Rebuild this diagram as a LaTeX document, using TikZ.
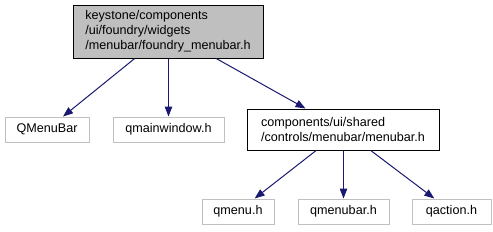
\documentclass[tikz,border=0pt]{standalone}
\usepackage{fontspec}
\setmainfont{Liberation Sans}
\usetikzlibrary{arrows.meta}
\definecolor{edgeblue}{HTML}{191970}
\definecolor{boxgray}{HTML}{BFBFBF}
\definecolor{lightborder}{HTML}{C0C0C0}
\begin{document}
\begin{tikzpicture}[x=1pt,y=-1pt,
  every node/.style={font=\fontsize{12.6}{15}\selectfont, inner sep=0pt, line width=1pt, align=left},
  extbox/.style={draw=lightborder, fill=white, minimum height=25pt},
  mainbox/.style={draw=black, fill=boxgray},
  incbox/.style={draw=black, fill=white},
  dep/.style={draw=edgeblue, line width=1pt, -{Triangle[length=10pt,width=7.5pt]}, edgeblue}
]
\useasboundingbox (0,0) rectangle (493,231);
\node[mainbox, minimum width=190pt, minimum height=53pt] (top) at (168,31.5)
  {keystone/components\\/ui/foundry/widgets\\/menubar/foundry\_menubar.h};
\node[extbox, minimum width=84pt] (qmb) at (47,129.5) {QMenuBar};
\node[extbox, minimum width=111pt] (qmw) at (168.5,129.5) {qmainwindow.h};
\node[incbox, minimum width=192pt, minimum height=41pt] (mb) at (343,129.5)
  {components/ui/shared\\/controls/menubar/menubar.h};
\node[extbox, minimum width=72pt] (qm) at (238,211.5) {qmenu.h};
\node[extbox, minimum width=91pt] (qmbh) at (343.5,211.5) {qmenubar.h};
\node[extbox, minimum width=79pt] (qa) at (451.5,211.5) {qaction.h};
\draw[dep] (top) -- (qmb);
\draw[dep] (top.south -| qmw.north) -- (qmw.north);
\draw[dep] (top) -- (mb);
\draw[dep] (mb) -- (qm);
\draw[dep] (mb.south -| qmbh.north) -- (qmbh.north);
\draw[dep] (mb) -- (qa);
\end{tikzpicture}
\end{document}
